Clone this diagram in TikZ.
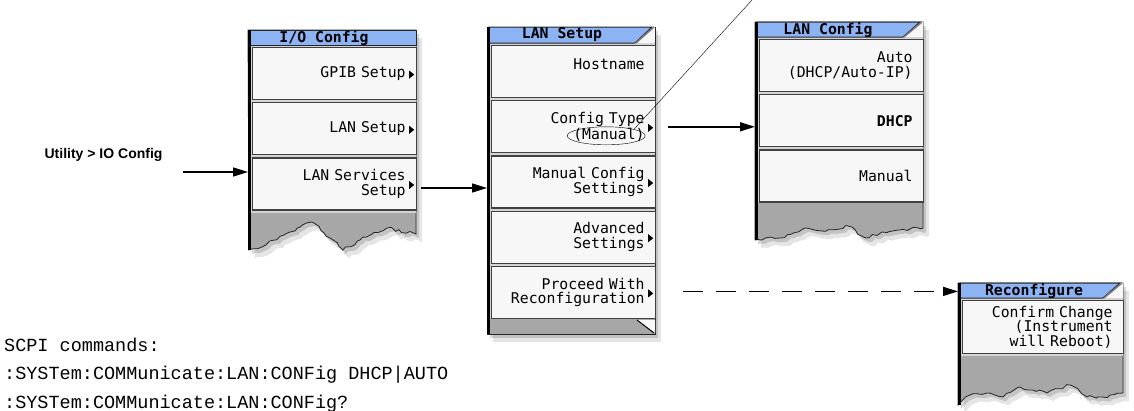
\documentclass[tikz,border=0pt]{standalone}
\usepackage{fontspec}
\setmainfont{Liberation Sans}
\newfontfamily\keyfont{DejaVu Sans Mono}
\newfontfamily\scpifont{Liberation Mono}
\usepackage{tikz}
\usetikzlibrary{arrows.meta,decorations.pathmorphing,positioning,shapes.geometric,calc}

\definecolor{titleblue}{HTML}{8CB4F4}
\definecolor{keywhite}{HTML}{F7F7F7}
\definecolor{framegray}{HTML}{D4D4D4}
\definecolor{torngray}{HTML}{A7A7A7}

\begin{document}
\begin{tikzpicture}[
	x=1pt, y=-1pt,
	node distance=2pt,
	panel/.style={
		fill=torngray,
		draw=black!85,
		line width=0.8pt,
		decoration={random steps, segment length=4pt, amplitude=1.6pt},
		preaction={fill=black, fill opacity=0.10, draw=none, transform canvas={shift={(6pt,-8pt)}}},
		preaction={fill=black, fill opacity=0.15, draw=none, transform canvas={shift={(3pt,-4pt)}}}
	},
	frame/.style={
		rectangle,
		fill=framegray,
		minimum width=168pt,
		inner sep=0pt,
		outer sep=0pt,
		anchor=north west
	},
	bar/.style={fill=titleblue, draw=black!85, line width=1pt},
	fold/.style={draw=black!50, line width=1.5pt},
	edge/.style={line width=3pt, black},
	title/.style={font=\keyfont\bfseries\fontsize{14.8}{15}\selectfont, inner sep=0pt},
	key/.style={
		rectangle,
		draw=black!75,
		line width=1.2pt,
		fill=keywhite,
		minimum height=52pt,
		text width=142pt,
		inner xsep=11pt,
		align=right,
		font=\keyfont\fontsize{14.8}{14.5}\selectfont
	},
	ring/.style={ellipse, draw, thin, minimum width=78pt, minimum height=18pt, inner sep=0pt},
	flow/.style={-{Triangle[length=15pt, width=9pt]}, line width=1.5pt},
	scpi/.style={font=\scpifont\fontsize{18.5}{20}\selectfont, anchor=base west, inner sep=0pt}
]
\useasboundingbox (0,0) rectangle (1134,410);
\pgfmathsetseed{7}

% I/O Config
\filldraw[panel] decorate{(249,250) -- (262,247) -- (290,232) -- (312,222) -- (330,238) -- (343,250) -- (360,240) -- (387,228) -- (416,234)} -- (416,30) -- (248,30) -- cycle;
\node[frame, minimum height=183pt] (IOFrame) at (248,30) {};
\filldraw[bar] (250,30) rectangle (416,45);
\node[title] (IOTitle) at (324,38) {I/O Config};
\node[key, anchor=north west] (Gpib) at (252,47) {GPIB Setup};
\node[key, below=of Gpib] (LanSetup) {LAN Setup};
\node[key, below=of LanSetup] (Services) {LAN Services\\Setup};
\draw[edge] (249.5,30) -- (249.5,250);

% LAN Setup
\filldraw[panel] (487,27) rectangle (655,334);
\node[frame, minimum height=292pt] (LanFrame) at (487,27) {};
\fill[keywhite] (636,27) rectangle (655,43);
\filldraw[bar] (489,27) -- (652,27) -- (635,43) -- (489,43) -- cycle;
\draw[fold] (636,43) -- (654,27);
\node[title] (LanTitle) at (562,35) {LAN Setup};
\node[key, anchor=north west] (Hostname) at (491,45) {Hostname\\\mbox{}};
\node[key, below=of Hostname] (ConfigType) {Config Type\\(Manual)};
\node[key, below=of ConfigType] (ManualConfig) {Manual Config\\Settings};
\node[key, below=of ManualConfig] (Advanced) {Advanced\\Settings};
\node[key, below=of Advanced] (Proceed) {Proceed With\\Reconfiguration};
\fill[keywhite] (637,320) -- (655,320) -- (655,333) -- cycle;
\draw[line width=1pt] (637,320) -- (654,333);
\draw[edge] (488.5,27) -- (488.5,334);

% LAN Config
\filldraw[panel] decorate{(755,240) -- (780,238) -- (805,228) -- (822,231) -- (848,226) -- (866,238) -- (882,232) -- (900,230) -- (923,228)} -- (923,22) -- (755,22) -- cycle;
\node[frame, minimum height=181pt] (CfgFrame) at (755,22) {};
\fill[keywhite] (904,22) rectangle (923,37);
\filldraw[bar] (757,22) -- (920,22) -- (903,37) -- (757,37) -- cycle;
\draw[fold] (904,37) -- (922,22);
\node[title] (CfgTitle) at (828,30) {LAN Config};
\node[key, anchor=north west] (Auto) at (759,39) {Auto\\(DHCP/Auto-IP)};
\node[key, below=of Auto] (Dhcp) {\bfseries DHCP};
\node[key, below=of Dhcp] (Manual) {Manual};
\draw[edge] (756.5,22) -- (756.5,240);

% Reconfigure
\filldraw[panel] decorate{(958,405) -- (970,395) -- (987,393) -- (1003,397) -- (1020,387) -- (1033,390) -- (1047,393) -- (1070,385) -- (1087,397) -- (1102,397) -- (1123,393)} -- (1123,283) -- (958,283) -- cycle;
\node[frame, minimum width=165pt, minimum height=73pt] (RcfFrame) at (958,283) {};
\fill[keywhite] (1104,283) rectangle (1123,298);
\filldraw[bar] (960,283) -- (1120,283) -- (1103,298) -- (960,298) -- cycle;
\draw[fold] (1104,298) -- (1122,283);
\node[title] (RcfTitle) at (1034,291) {Reconfigure};
\node[key, anchor=north west, text width=139pt, minimum height=53pt] (Confirm) at (962,300) {Confirm Change\\(Instrument\\will Reboot)};
\draw[edge] (959.5,283) -- (959.5,405);

% more-keys marks
\foreach \k in {Gpib,LanSetup,Services,ConfigType,ManualConfig,Advanced,Proceed}
	\fill ($(\k.east)+(-8,-3)$) -- ++(5,4) -- ++(-5,4) -- cycle;

% callout
\node[ring] (Ring) at ($(ConfigType.east)+(-50,9)$) {};
\coordinate (LeaderEnd) at (752,0);
\draw[thin] (Ring.north east) -- (LeaderEnd);

% arrows
\node[font=\bfseries\fontsize{14}{16}\selectfont, anchor=east] (Utility) at (166,155) {Utility > IO Config};
\coordinate (UtilityOut) at (183,172);
\draw[flow] (UtilityOut) -- (UtilityOut -| IOFrame.west);
\coordinate (ServicesOut) at ($(Services.east)+(4,4)$);
\draw[flow] (ServicesOut) -- (ServicesOut -| LanFrame.west);
\coordinate (TypeOut) at ($(ConfigType.east)+(12,0)$);
\draw[flow] (TypeOut) -- (TypeOut -| CfgFrame.west);
\coordinate (ProceedOut) at ($(Proceed.east)+(27,-1)$);
\draw[flow, dash pattern=on 20pt off 13pt] (ProceedOut) -- (ProceedOut -| RcfFrame.west);

% SCPI
\node[scpi] (ScpiHead) at (4,351) {SCPI commands:};
\node[scpi] (ScpiSet) at (4,379) {:SYSTem:COMMunicate:LAN:CONFig DHCP|AUTO};
\node[scpi] (ScpiQuery) at (4,408) {:SYSTem:COMMunicate:LAN:CONFig?};

\end{tikzpicture}
\end{document}
